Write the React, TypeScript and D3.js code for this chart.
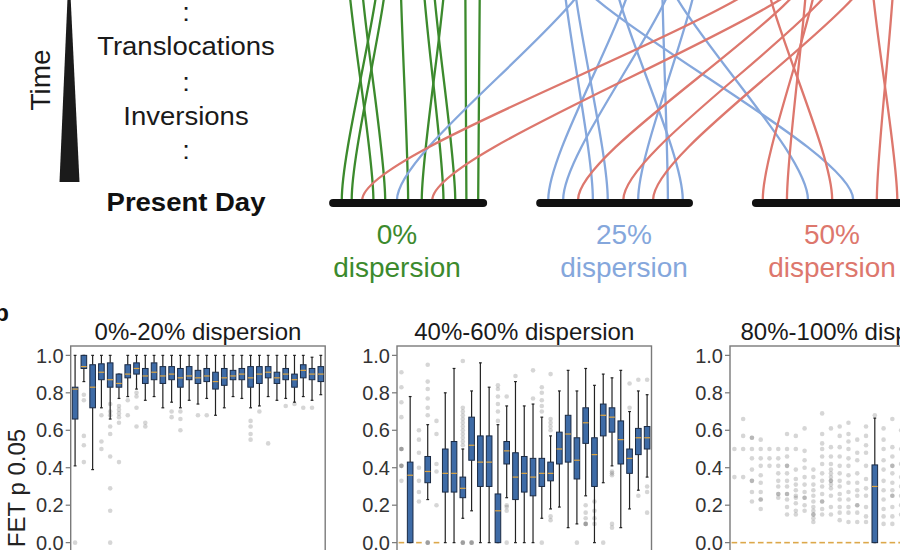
import React from "react";
import * as d3 from "d3";

const W = 900;
const H = 550;
const FONT = "'Liberation Sans', Arial, Helvetica, sans-serif";

// ---------- Panel a (schematic) data ----------
const timeStages = [":", "Translocations", ":", "Inversions", ":"];
const dispersionLabels = ["0%", "25%", "50%"];
const dispersionColors = ["#3c8a2d", "#85a7dc", "#dd776d"];
// chromosome spans, in genome-block units
const chromosomeSpans: [number, number][] = [
  [0.5, 24.7],
  [33.9, 57.9],
  [68.7, 100],
];
// links: [present-day position, ancestral position] in genome-block units
const greenLinks: [number, number][] = [
  [1.9, 8.1], [3.5, 9.4], [7.0, 2.7], [8.9, 4.8], [12.6, 11.3],
  [14.8, 18.8], [18.3, 14.8], [20.2, 16.4], [22.0, 21.8], [23.9, 24.2],
];
const blueLinks: [number, number][] = [
  [10.8, 43.5], [35.2, 49.5], [37.6, 56.5], [42.4, 37.4], [44.8, 39.0],
  [49.7, 59.7], [54.5, 53.5], [56.9, 45.2], [77.1, 53.1], [84.4, 37.1],
];
const redLinks: [number, number][] = [
  [5.2, 74.2], [16.5, 80.6], [40.0, 79.0], [47.3, 83.9], [52.1, 88.7],
  [69.8, 79.0], [73.7, 77.1], [81.0, 69.7], [88.2, 91.1], [91.5, 87.1],
];

// ---------- Panel b data ----------
const panelTitles = ["0%-20% dispersion", "40%-60% dispersion", "80%-100% dispersion"];
const yTicks = [0, 0.2, 0.4, 0.6, 0.8, 1.0];
const yLabel = "FET p 0.05";

// boxes: [q1, median, q3, whiskerLow, whiskerHigh]
const lowBoxes: number[][] = [
  [0.66, 0.82, 0.83, 0.41, 1.0], [0.93, 0.94, 1.0, 0.86, 1.0], [0.72, 0.83, 0.95, 0.39, 1.0],
  [0.87, 0.91, 0.955, 0.72, 1.0], [0.83, 0.87, 0.96, 0.66, 1.0], [0.83, 0.85, 0.9, 0.77, 0.9],
  [0.88, 0.9, 0.95, 0.78, 1.0], [0.9, 0.93, 0.96, 0.82, 1.0], [0.85, 0.89, 0.93, 0.76, 1.0],
  [0.87, 0.91, 0.96, 0.78, 1.0], [0.85, 0.89, 0.94, 0.72, 1.0], [0.87, 0.9, 0.94, 0.75, 1.0],
  [0.83, 0.88, 0.93, 0.72, 1.0], [0.87, 0.89, 0.94, 0.76, 1.0], [0.85, 0.88, 0.92, 0.74, 1.0],
  [0.86, 0.89, 0.93, 0.77, 1.0], [0.82, 0.86, 0.91, 0.68, 1.0], [0.84, 0.88, 0.93, 0.72, 1.0],
  [0.87, 0.89, 0.92, 0.78, 1.0], [0.87, 0.9, 0.93, 0.77, 1.0], [0.83, 0.88, 0.94, 0.72, 1.0],
  [0.85, 0.9, 0.94, 0.73, 1.0], [0.88, 0.91, 0.94, 0.78, 1.0], [0.85, 0.88, 0.91, 0.76, 1.0],
  [0.87, 0.9, 0.93, 0.77, 1.0], [0.83, 0.87, 0.9, 0.75, 1.0], [0.88, 0.92, 0.95, 0.78, 1.0],
  [0.87, 0.9, 0.93, 0.76, 0.99], [0.86, 0.9, 0.94, 0.79, 1.0],
];
const lowFliers: number[][] = [
  [0.0], [0.79, 0.76, 0.57, 0.52, 0.43], [], [0.68, 0.54, 0.5],
  [0.74, 0.7, 0.68, 0.62, 0.58, 0.46, 0.29, 0.17, 0.0], [0.73, 0.71, 0.69, 0.67, 0.64, 0.43],
  [0.76, 0.68], [0.8, 0.78, 0.72, 0.62], [0.64, 0.62], [], [], [0.7, 0.67], [0.7, 0.66, 0.6],
  [], [0.68], [0.68], [], [], [], [], [0.65, 0.62, 0.58, 0.55], [0.7], [0.53], [],
  [0.73], [0.74], [0.72], [0.72], [],
];

const midBoxes: number[][] = [
  [0, 0, 0, 0, 0], [0, 0.36, 0.43, 0, 0.78], [0, 0, 0, 0, 0], [0.32, 0.38, 0.46, 0.23, 0.63],
  [0, 0, 0, 0, 0], [0.27, 0.37, 0.5, 0, 0.8], [0.27, 0.37, 0.54, 0, 0.93], [0.24, 0.29, 0.35, 0.13, 0.5],
  [0.44, 0.52, 0.67, 0.17, 0.81], [0.3, 0.43, 0.57, 0, 0.96], [0.3, 0.43, 0.57, 0, 0.83],
  [0, 0.17, 0.26, 0, 0.63], [0.42, 0.49, 0.54, 0.24, 0.73], [0.23, 0.35, 0.48, 0, 0.86],
  [0.27, 0.37, 0.46, 0, 0.73], [0.25, 0.35, 0.45, 0, 0.74], [0.3, 0.37, 0.45, 0.13, 0.67],
  [0.33, 0.37, 0.43, 0.18, 0.57], [0.42, 0.5, 0.59, 0.19, 0.81], [0.43, 0.58, 0.68, 0.08, 0.92],
  [0.34, 0.44, 0.56, 0.1, 0.81], [0.53, 0.64, 0.72, 0.25, 0.93], [0.3, 0.47, 0.56, 0, 0.84],
  [0.57, 0.68, 0.74, 0.32, 0.9], [0.59, 0.67, 0.72, 0.41, 0.88], [0.42, 0.55, 0.65, 0.08, 0.92],
  [0.37, 0.45, 0.5, 0.18, 0.7], [0.47, 0.56, 0.61, 0.28, 0.81], [0.5, 0.56, 0.62, 0.35, 0.79],
];
const midFliers: number[][] = [
  [0.91, 0.83, 0.75, 0.67, 0.5, 0.5, 0.5, 0.41, 0.41, 0.41, 0.33], [],
  [0.6, 0.55, 0.48, 0.4, 0.33, 0.27, 0.22], [0.95, 0.86, 0.82, 0.77, 0.72, 0.68, 0.0, 0.0, 0.0],
  [0.65, 0.58, 0.42, 0.38, 0.2], [], [],
  [0.97, 0.72, 0.7, 0.68, 0.66, 0.64, 0.62, 0.6, 0.58, 0.56, 0.54, 0.52, 0.0, 0.0, 0.0],
  [0.0, 0.0, 0.0], [], [], [0.84, 0.82, 0.78, 0.74, 0.7, 0.65], [0.78, 0.2, 0.19, 0.17, 0.0],
  [0.89], [], [0.92, 0.77], [0.83, 0.8, 0.76, 0.73, 0.7, 0.0], [0.9, 0.66, 0.64, 0.62, 0.6, 0.14, 0.12],
  [], [], [0.0], [0.2, 0.16, 0.13, 0.1, 0.1, 0.1], [0.22, 0.17, 0.13, 0.1], [0.0],
  [0.38, 0.37, 0.36, 0.1, 0.08], [], [0.85, 0.72], [0.87, 0.25], [0.87, 0.3, 0.27, 0.16],
];

const highBoxes: number[][] = [
  [0, 0, 0, 0, 0], [0, 0, 0, 0, 0], [0, 0, 0, 0, 0], [0, 0, 0, 0, 0], [0, 0, 0, 0, 0],
  [0, 0, 0, 0, 0], [0, 0, 0, 0, 0], [0, 0, 0, 0, 0], [0, 0, 0, 0, 0], [0, 0, 0, 0, 0],
  [0, 0, 0, 0, 0], [0, 0, 0, 0, 0], [0, 0, 0, 0, 0], [0, 0, 0, 0, 0], [0, 0, 0, 0, 0],
  [0, 0, 0, 0, 0], [0, 0.3, 0.415, 0, 0.665], [0, 0, 0, 0, 0], [0, 0, 0, 0, 0], [0, 0, 0, 0, 0],
];
const highFliers: number[][] = [
  [0.5, 0.35],
  [0.66, 0.57, 0.5, 0.35],
  [0.56, 0.56, 0.5, 0.45, 0.39, 0.33, 0.33, 0.27, 0.22],
  [0.55, 0.5, 0.45, 0.41, 0.36, 0.32, 0.27, 0.23, 0.23, 0.18],
  [0.5, 0.45, 0.41],
  [0.5, 0.45, 0.41, 0.37, 0.33, 0.3, 0.26, 0.26, 0.24],
  [0.58, 0.5, 0.46, 0.41, 0.41, 0.37, 0.33, 0.3, 0.26, 0.26, 0.23, 0.19, 0.15],
  [0.57, 0.5, 0.39, 0.34, 0.31, 0.28, 0.25, 0.24, 0.21, 0.17, 0.15],
  [0.61, 0.49, 0.44, 0.4, 0.35, 0.31, 0.27, 0.24, 0.24, 0.2, 0.17],
  [0.39, 0.35, 0.31, 0.28, 0.25, 0.22, 0.19, 0.17, 0.15, 0.15, 0.13, 0.11],
  [0.69, 0.58, 0.53, 0.5, 0.46, 0.42, 0.37, 0.33, 0.3, 0.26, 0.22, 0.22, 0.18, 0.15],
  [0.61, 0.51, 0.46, 0.42, 0.39, 0.37, 0.35, 0.33, 0.33, 0.31, 0.29, 0.25, 0.19, 0.15],
  [0.62, 0.57, 0.51, 0.46, 0.41, 0.37, 0.33, 0.3, 0.26, 0.23, 0.19, 0.16, 0.12],
  [0.64, 0.58, 0.54, 0.5, 0.45, 0.41, 0.36, 0.32, 0.27, 0.23, 0.19, 0.16, 0.11],
  [0.55, 0.48, 0.44, 0.37, 0.32, 0.28, 0.25, 0.2, 0.2, 0.16, 0.11],
  [0.62, 0.57, 0.52, 0.48, 0.41, 0.34, 0.29, 0.25, 0.19, 0.14, 0.11],
  [0.68],
  [0.61, 0.55, 0.5, 0.44, 0.39, 0.33, 0.28, 0.23, 0.18, 0.14, 0.1],
  [0.66, 0.51, 0.46, 0.41, 0.41, 0.37, 0.32, 0.28, 0.25, 0.25, 0.19, 0.14, 0.1],
  [0.6, 0.5, 0.42, 0.35, 0.3, 0.25, 0.2, 0.15],
];

const panelBoxes = [lowBoxes, midBoxes, highBoxes];
const panelFliers = [lowFliers, midFliers, highFliers];

// ---------- layout ----------
const PANEL_LEFTS = [70.7, 397, 730];
const PANEL_W = 254.5;
const PANEL_TOP = 346;
const PANEL_BOTTOM = 552;
const N_POS = 29;
const LABEL_X = [397, 624, 832];

const xs = d3.scaleLinear().domain([0, 100]).range([330, 950]);
const yLevel = d3.scaleLinear().domain([0, 1]).range([200, -46]);
const BAR_Y = 203;

function linkPath(a: number, b: number) {
  const p = d3.path();
  const x0 = xs(a), x1 = xs(b);
  const y0 = yLevel(0), y1 = yLevel(1);
  const h = 52;
  p.moveTo(x0, y0);
  p.bezierCurveTo(x0, y0 - h, x1, y1 + h, x1, y1);
  return p.toString();
}

function Panel({ idx }: { idx: number }) {
  const left = PANEL_LEFTS[idx];
  const x = d3.scaleLinear().domain([0.5, N_POS + 0.5]).range([left, left + PANEL_W]);
  const y = d3.scaleLinear().domain([-0.05, 1.05]).range([PANEL_BOTTOM, PANEL_TOP]);
  const step = x(2) - x(1);
  const bw = step * 0.64;
  const cap = bw * 0.5;
  const boxes = panelBoxes[idx];
  const fliers = panelFliers[idx];
  return (
    <g>
      <text x={left + PANEL_W / 2} y={340} textAnchor="middle" fontSize={24} fill="#1a1a1a">
        {panelTitles[idx]}
      </text>
      {yTicks.map((t) => (
        <g key={t}>
          <line x1={left - 5} x2={left} y1={y(t)} y2={y(t)} stroke="#777" strokeWidth={1.2} />
          <text x={left - 7} y={y(t)} dy="0.36em" textAnchor="end" fontSize={20} fill="#333">
            {d3.format(".1f")(t)}
          </text>
        </g>
      ))}
      {fliers.map((vals, i) =>
        vals.map((v, j) => (
          <circle key={`f${i}-${j}`} cx={x(i + 1)} cy={y(v)} r={2.3} fill="#555" fillOpacity={0.24} />
        ))
      )}
      {boxes.map((b, i) => {
        const [q1, med, q3, lo, hi] = b;
        const cx = x(i + 1);
        const collapsed = q3 - q1 < 1e-6 && hi - lo < 1e-6;
        if (collapsed) {
          return (
            <line key={`b${i}`} x1={cx - bw / 2} x2={cx + bw / 2} y1={y(med)} y2={y(med)}
              stroke="#dca84a" strokeWidth={1.6} />
          );
        }
        return (
          <g key={`b${i}`}>
            <line x1={cx} x2={cx} y1={y(hi)} y2={y(q3)} stroke="#222" strokeWidth={1.2} />
            <line x1={cx} x2={cx} y1={y(q1)} y2={y(lo)} stroke="#222" strokeWidth={1.2} />
            <line x1={cx - cap / 2} x2={cx + cap / 2} y1={y(hi)} y2={y(hi)} stroke="#222" strokeWidth={1.2} />
            <line x1={cx - cap / 2} x2={cx + cap / 2} y1={y(lo)} y2={y(lo)} stroke="#222" strokeWidth={1.2} />
            <rect x={cx - bw / 2} y={y(q3)} width={bw} height={Math.max(0.5, y(q1) - y(q3))}
              fill="#3e6ba6" stroke="#1a2a44" strokeWidth={1} />
            <line x1={cx - bw / 2} x2={cx + bw / 2} y1={y(med)} y2={y(med)} stroke="#e0a640" strokeWidth={1.2} />
          </g>
        );
      })}
      <rect x={left} y={PANEL_TOP} width={PANEL_W} height={PANEL_BOTTOM - PANEL_TOP}
        fill="none" stroke="#7a7a7a" strokeWidth={1.4} />
    </g>
  );
}

export default function App() {
  const linkGroups: [string, [number, number][]][] = [
    [dispersionColors[0], greenLinks],
    [dispersionColors[1], blueLinks],
    [dispersionColors[2], redLinks],
  ];
  const stageY = [21, 55, 91, 125, 159];
  return (
    <svg width={W} height={H} viewBox={`0 0 ${W} ${H}`}
      style={{ position: "absolute", left: 0, top: 0, background: "#fff", fontFamily: FONT }}>
      <rect width={W} height={H} fill="#fff" />
      {/* time arrow */}
      <polygon points="69,-36 59.5,182 79.5,182" fill="#1b1b1b" />
      <text transform="translate(50,80) rotate(-90)" textAnchor="middle" fontSize={28} fill="#1a1a1a">
        Time
      </text>
      {timeStages.map((s, i) => (
        <text key={i} transform={`translate(186,${stageY[i]}) scale(1.1,1)`} textAnchor="middle"
          fontSize={25} fill="#1a1a1a">
          {s}
        </text>
      ))}
      <text transform="translate(186,211) scale(1.1,1)" textAnchor="middle" fontSize={25}
        fontWeight="bold" fill="#111">
        Present Day
      </text>
      {/* links */}
      {linkGroups.map(([color, links]) =>
        links.map(([a, b], i) => (
          <path key={`${color}-${i}`} d={linkPath(a, b)} fill="none" stroke={color} strokeWidth={2.3} />
        ))
      )}
      {/* chromosomes */}
      {chromosomeSpans.map(([a, b], i) => (
        <line key={i} x1={xs(a)} x2={xs(b)} y1={BAR_Y} y2={BAR_Y} stroke="#111" strokeWidth={8}
          strokeLinecap="round" />
      ))}
      {dispersionLabels.map((l, i) => (
        <g key={l} fill={dispersionColors[i]} fontSize={28} textAnchor="middle">
          <text x={LABEL_X[i]} y={244}>{l}</text>
          <text x={LABEL_X[i]} y={277}>dispersion</text>
        </g>
      ))}
      {/* panel b */}
      <text x={9} y={321} textAnchor="end" fontSize={24} fontWeight="bold" fill="#111">b</text>
      <text transform="translate(25,488) rotate(-90)" textAnchor="middle" fontSize={24} fill="#222">
        {yLabel}
      </text>
      {[0, 1, 2].map((i) => (
        <Panel key={i} idx={i} />
      ))}
    </svg>
  );
}
